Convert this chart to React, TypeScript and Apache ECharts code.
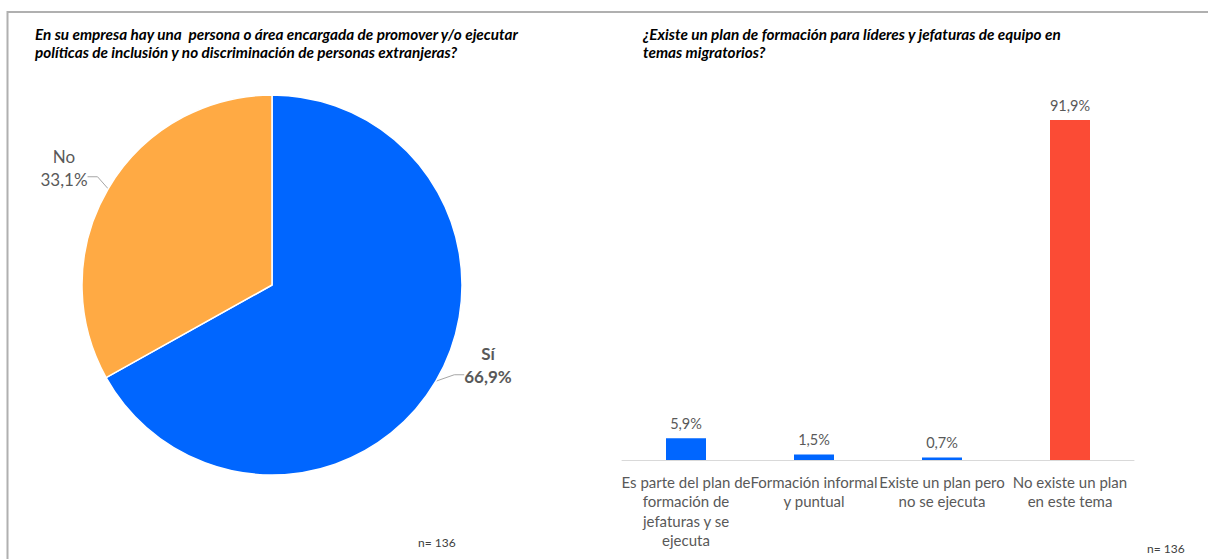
import React, { useEffect, useRef } from "react";
import * as echarts from "echarts";

const pieNames = ["Sí", "No"];
const pieValues = [66.9, 33.1];
const pieColors = ["#0066FF", "#FFAA44"];

const barCategories = [
  "Es parte del plan de\nformación de\njefaturas y se\nejecuta",
  "Formación informal\ny puntual",
  "Existe un plan pero\nno se ejecuta",
  "No existe un plan\nen este tema",
];
const barValues = [5.9, 1.5, 0.7, 91.9];
const barColors = ["#0066FF", "#0066FF", "#0066FF", "#FB4B35"];

const leftTitle =
  "En su empresa hay una  persona o área encargada de promover y/o ejecutar\npolíticas de inclusión y no discriminación de personas extranjeras?";
const rightTitle =
  "¿Existe un plan de formación para líderes y jefaturas de equipo en\ntemas migratorios?";
const sampleNote = "n= 136";

const FONT = "Lato, 'Noto Sans', sans-serif";
const fmt = (v: number) => v.toFixed(1).replace(".", ",") + "%";

export default function App() {
  const ref = useRef<HTMLDivElement>(null);
  useEffect(() => {
    document.body.style.margin = "0";
    const chart = echarts.init(ref.current!, null, { renderer: "svg" });
    const txt = { color: "#595959", fontSize: 17, lineHeight: 23, fontFamily: FONT, align: "center" };
    chart.setOption({
      animation: false,
      backgroundColor: "#ffffff",
      textStyle: { fontFamily: FONT },
      graphic: [
        {
          type: "polyline",
          shape: { points: [[7.5, 570], [7.5, 12], [1208, 12]] },
          style: { stroke: "#B0B0B0", lineWidth: 2, fill: "none" },
        },
        {
          type: "text",
          left: 35,
          top: 25,
          style: {
            text: leftTitle,
            font: `italic bold 15.3px ${FONT}`,
            fill: "#000000",
            lineHeight: 18,
          },
        },
        {
          type: "text",
          left: 643,
          top: 25,
          style: {
            text: rightTitle,
            font: `italic bold 15.3px ${FONT}`,
            fill: "#000000",
            lineHeight: 18,
          },
        },
        {
          type: "text",
          left: 418,
          top: 536,
          style: { text: sampleNote, font: `12px ${FONT}`, fill: "#404040" },
        },
        {
          type: "text",
          left: 1147,
          top: 542,
          style: { text: sampleNote, font: `12px ${FONT}`, fill: "#404040" },
        },
      ],
      grid: { left: 622, top: 90, width: 512, height: 370 },
      xAxis: {
        type: "category",
        data: barCategories,
        axisLine: { lineStyle: { color: "#D9D9D9", width: 1 } },
        axisTick: { show: false },
        axisLabel: {
          interval: 0,
          color: "#595959",
          fontSize: 15,
          lineHeight: 19.5,
          margin: 12,
          fontFamily: FONT,
        },
      },
      yAxis: { type: "value", min: 0, max: 100, show: false, splitLine: { show: false } },
      series: [
        {
          type: "pie",
          center: [272, 285],
          radius: 190,
          startAngle: 90,
          clockwise: true,
          itemStyle: { borderColor: "#ffffff", borderWidth: 1.5 },
          data: pieNames.map((n, i) => ({
            name: n,
            value: pieValues[i],
            itemStyle: { color: pieColors[i] },
          })),
          label: {
            show: true,
            position: "outside",
            formatter: (p: any) =>
              p.dataIndex === 0
                ? `{b|${p.name}}\n{b|${fmt(p.value)}}\n{s1| }`
                : `{t|${p.name}}\n{t|${fmt(p.value)}}\n{s2| }`,
            align: "center",
            rich: {
              t: txt,
              b: { ...txt, fontWeight: "bold" },
              s1: { fontSize: 1, lineHeight: 32 },
              s2: { fontSize: 1, lineHeight: 28 },
            },
          },
          labelLine: {
            show: true,
            length: 10,
            length2: 10,
            lineStyle: { color: "#A6A6A6", width: 1 },
          },
          labelLayout: (p: any) => {
            if (p.dataIndex === 0) {
              return { x: 488, y: 381, align: "center", verticalAlign: "middle" };
            }
            return { x: 64, y: 182, align: "center", verticalAlign: "middle" };
          },
        },
        {
          type: "bar",
          barWidth: 40,
          data: barValues.map((v, i) => ({ value: v, itemStyle: { color: barColors[i] } })),
          label: {
            show: true,
            position: "top",
            distance: 7,
            color: "#595959",
            fontSize: 14.5,
            fontFamily: FONT,
            formatter: (p: any) => fmt(p.value),
          },
        },
      ],
    });
    return () => chart.dispose();
  }, []);
  return <div ref={ref} style={{ width: 1209, height: 559 }} />;
}
